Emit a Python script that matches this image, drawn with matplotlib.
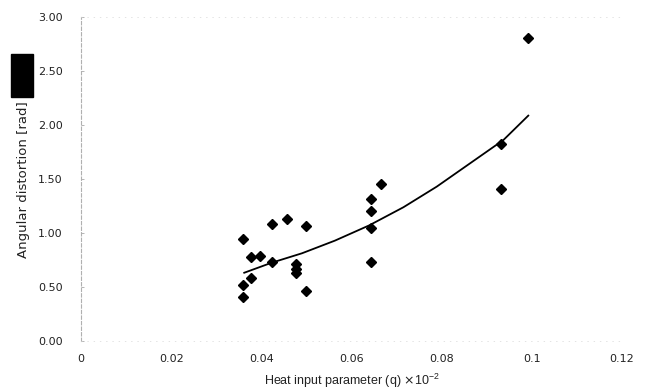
import matplotlib
matplotlib.use("Agg")
import matplotlib.pyplot as plt
from matplotlib.patches import Rectangle

plt.rcParams['font.family'] = ['DejaVu Sans']

# measured points (heat input parameter, angular distortion)
heat_input = [0.0359, 0.0359, 0.0359, 0.0377, 0.0377, 0.0397, 0.0424, 0.0424,
              0.0457, 0.0477, 0.0477, 0.0477, 0.0499, 0.0499,
              0.0643, 0.0643, 0.0643, 0.0643, 0.0665, 0.0932, 0.0932, 0.0992]
distortion = [0.94, 0.52, 0.41, 0.78, 0.58, 0.79, 1.08, 0.73,
              1.13, 0.71, 0.67, 0.63, 1.06, 0.46,
              1.31, 1.20, 1.05, 0.73, 1.45, 1.82, 1.41, 2.80]

# trend line
trend_x = [0.0362, 0.0423, 0.0490, 0.0563, 0.0639, 0.0715, 0.0789, 0.0863, 0.0937, 0.0992]
trend_y = [0.632, 0.725, 0.812, 0.929, 1.07, 1.238, 1.429, 1.645, 1.861, 2.086]

x_ticks = [0, 0.02, 0.04, 0.06, 0.08, 0.1, 0.12]
x_tick_labels = ["0", "0.02", "0.04", "0.06", "0.08", "0.1", "0.12"]
y_ticks = [0.0, 0.5, 1.0, 1.5, 2.0, 2.5, 3.0]
y_tick_labels = ["0.00", "0.50", "1.00", "1.50", "2.00", "2.50", "3.00"]

fig = plt.figure(figsize=(6.48, 3.92), dpi=100)
ax = fig.add_axes([0.125, 0.130, 0.835, 0.827])

ax.plot(trend_x, trend_y, color="black", linewidth=1.3)
ax.plot(heat_input, distortion, linestyle="none", marker="D", markersize=5.5,
        color="black")

ax.set_xlim(0, 0.12)
ax.set_ylim(0, 3.0)
ax.set_xticks(x_ticks)
ax.set_xticklabels(x_tick_labels)
ax.set_yticks(y_ticks)
ax.set_yticklabels(y_tick_labels)
ax.tick_params(axis="x", length=0, pad=9, labelsize=8, labelcolor="#222222")
ax.tick_params(axis="y", direction="in", length=2, width=0.6, color="#aaaaaa",
               pad=13, labelsize=8, labelcolor="#222222")

ax.spines["right"].set_visible(False)
ax.spines["left"].set_linestyle((0, (3, 2)))
ax.spines["left"].set_color("#b0b0b0")
ax.spines["left"].set_linewidth(0.8)
for side in ["top", "bottom"]:
    ax.spines[side].set_linestyle((0, (1, 8)))
    ax.spines[side].set_color("#d8d8d8")
    ax.spines[side].set_linewidth(0.5)

ax.set_xlabel(r"Heat input parameter (q) $\times\mathregular{10^{-2}}$",
              fontsize=9, color="#222222", labelpad=6, family="Liberation Sans")
fig.text(0.037, 0.541, "Angular distortion [rad]", rotation=90,
         ha="center", va="center", fontsize=9.5, color="#222222")

# black box over the upper part of the y label
fig.patches.append(Rectangle((11 / 648, 1 - 97 / 392), 22 / 648, 43 / 392,
                             transform=fig.transFigure, color="black"))

fig.savefig("out.png", dpi=100)
